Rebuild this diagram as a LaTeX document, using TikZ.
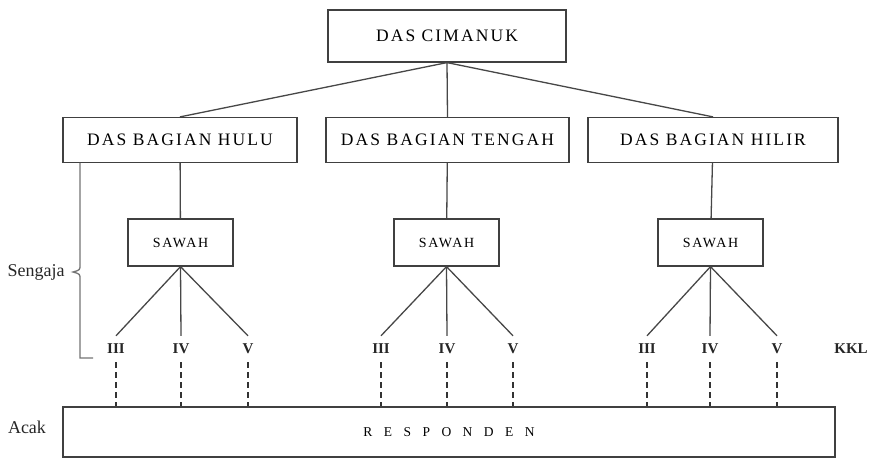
\documentclass[tikz,border=0pt]{standalone}
\usepackage{fontspec}
\setmainfont{Liberation Serif}
\newfontfamily\boxfont{Liberation Serif}[LetterSpace=12]
\newfontfamily\widefont{Liberation Serif}[LetterSpace=60]

\begin{document}
\begin{tikzpicture}[x=1pt,y=-1pt,
    box/.style={draw=black!75,line width=1.2pt,inner sep=0pt,font=\boxfont\fontsize{17.5}{19}\selectfont},
    sawahbox/.style={box,minimum width=105pt,minimum height=47pt,font=\boxfont\fontsize{14}{16}\selectfont},
    kkl/.style={inner sep=0pt,minimum height=26pt,text=black!85,font=\bfseries\fontsize{15}{17}\selectfont},
    side/.style={text=black!85,font=\fontsize{18}{20}\selectfont},
    link/.style={draw=black!72,line width=1.3pt},
    acakline/.style={draw=black!80,line width=1.6pt,dash pattern=on 6pt off 4pt}]
    \useasboundingbox (0,0) rectangle (869,462);

    % kotak utama
    \node (cimanuk) at (447,36) [box,minimum width=238pt,minimum height=52pt] {DAS CIMANUK};
    \node (hulu) at (180,140) [box,minimum width=234pt,minimum height=45pt] {DAS BAGIAN HULU};
    \node (tengah) at (447.5,140) [box,minimum width=243pt,minimum height=45pt] {DAS BAGIAN TENGAH};
    \node (hilir) at (713,140) [box,minimum width=250pt,minimum height=45pt] {DAS BAGIAN HILIR};

    \node (sawahA) at (180.5,242.5) [sawahbox] {SAWAH};
    \node (sawahB) at (446.5,242.5) [sawahbox] {SAWAH};
    \node (sawahC) at (710.5,242.5) [sawahbox] {SAWAH};

    \node (responden) at (449,432) [box,minimum width=772pt,minimum height=50pt,font=\widefont\fontsize{13.5}{15}\selectfont] {R E S P O N D E N};

    % kelas KKL
    \node (a3) at (116,349) [kkl] {III};
    \node (a4) at (181,349) [kkl] {IV};
    \node (a5) at (248,349) [kkl] {V};
    \node (b3) at (381,349) [kkl] {III};
    \node (b4) at (447,349) [kkl] {IV};
    \node (b5) at (513,349) [kkl] {V};
    \node (c3) at (647,349) [kkl] {III};
    \node (c4) at (710,349) [kkl] {IV};
    \node (c5) at (777,349) [kkl] {V};
    \node (kkl) at (851,349) [kkl] {KKL};

    \node (sengaja) at (36,272) [side] {Sengaja};
    \node (acak) at (27,427) [side] {Acak};

    \draw[link] (cimanuk.south) -- (hulu.north) (cimanuk.south) -- (tengah.north) (cimanuk.south) -- (hilir.north);
    \draw[link] (hulu) -- (sawahA) (tengah) -- (sawahB) (hilir) -- (sawahC);

    \foreach \g/\s in {a/sawahA,b/sawahB,c/sawahC} {
        \foreach \k in {3,4,5} {
            \draw[link] (\s.south) -- (\g\k.north);
            \draw[acakline] (\g\k.south) -- (\g\k.south |- responden.north);
        }
    }

    % kurung sengaja
    \draw[link,black!55] (80,163) -- (80,265) .. controls (80,270) .. (73,272) .. controls (80,274) .. (80,279) -- (80,358) -- (93,358);
\end{tikzpicture}
\end{document}
